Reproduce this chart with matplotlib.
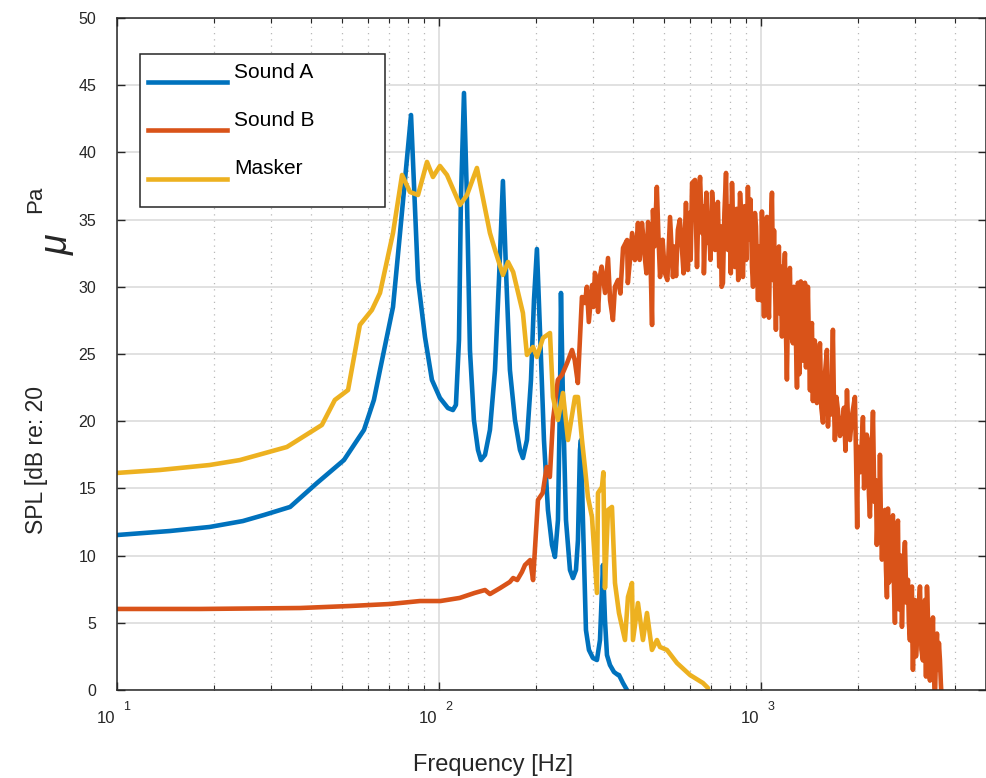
import numpy as np
import matplotlib.pyplot as plt
from matplotlib import transforms
from matplotlib.lines import Line2D
from matplotlib.patches import Rectangle
from matplotlib.ticker import LogLocator, MultipleLocator, NullFormatter

plt.rcParams['font.family'] = ['Liberation Sans', 'DejaVu Sans']

# Sound A
freq_a = [10, 14.6, 19.4, 24.6, 28.6, 34.5, 41.8, 50.7, 58.5, 62.8, 65.6, 72.0, 75.7,
          81.9, 86.1, 90.5, 95.1, 100.7, 106.6, 110.5, 112.9, 115.4, 117.0, 119.6, 122.2,
          124.8, 128.4, 132.2, 135.0, 139.0, 144.0, 149.3, 153.6, 158.0, 161.5, 166.1,
          172.2, 178.5, 182.3, 187.6, 193.1, 197.3, 201.5, 205.9, 211.9, 218.0, 224.4,
          229.2, 234.2, 237.6, 239.3, 242.7, 248.0, 255.2, 260.7, 266.4, 270.2, 274.1,
          276.1, 280.0, 286.1, 292.3, 300.8, 309.5, 316.3, 320.8, 323.1, 327.8, 332.5,
          339.7, 349.6, 359.7, 362.3, 372.8, 383.6]
spl_a = [11.53, 11.83, 12.13, 12.57, 13.02, 13.62, 15.40, 17.11, 19.35, 21.58, 23.81, 28.50, 34.0,
         42.78, 30.51, 26.26, 23.07, 21.73, 20.98, 20.83, 21.21, 26.04, 36.46, 44.42, 36.46,
         25.30, 20.09, 17.86, 17.11, 17.49, 19.35, 23.81, 30.51, 37.87, 31.25, 23.81,
         20.09, 17.86, 17.26, 18.60, 23.07, 29.02, 32.81, 26.79, 18.60, 13.39, 10.79,
         9.90, 12.65, 21.58, 29.54, 21.58, 12.65, 8.93, 8.33, 8.93, 11.16, 17.86,
         18.6, 12.65, 4.46, 2.98, 2.38, 2.23, 3.72, 7.44, 9.30, 5.21, 2.60,
         1.86, 1.34, 1.12, 1.12, 0.52, 0.0]

# Sound B
freq_b = [10, 18.1, 37, 52.9, 70.5, 87.3, 101, 116, 129, 139, 144, 155, 166, 170, 175, 181,
          185, 192, 196, 203, 210, 216, 221, 226, 234, 241, 250, 259, 264, 270, 278, 284,
          288, 292, 299, 302, 305, 309, 312, 316, 320, 328, 335, 340, 347, 352, 360, 366,
          373, 384, 386, 392, 398, 406, 410, 415, 420, 427, 432, 436, 441, 446, 452, 459,
          462, 467, 475, 480, 486, 495, 503, 512, 522, 533, 540, 545, 552, 560, 568, 575,
          585, 593, 600, 605, 611, 624, 633, 640, 647, 656, 662, 665, 670, 677, 685, 690,
          697, 705, 712, 720, 727, 735, 742, 750, 755, 762, 770, 779, 785, 790, 800, 806,
          813, 820, 830, 840, 850, 861, 870, 879, 890, 900, 911, 920, 928, 938, 945, 958,
          965, 972, 979, 990,
          1000, 1007, 1015, 1022, 1030, 1044, 1050, 1059, 1068, 1082, 1090, 1098, 1113,
          1122, 1137, 1145, 1152, 1162, 1175, 1187, 1195, 1204, 1215, 1230, 1240, 1257,
          1265, 1280, 1294, 1303, 1315, 1330, 1340, 1350, 1360, 1370, 1380, 1389, 1399,
          1410, 1420, 1430, 1440, 1450, 1460, 1470, 1480, 1492, 1508, 1525, 1540, 1558,
          1580, 1603, 1615, 1630, 1650, 1673, 1685, 1697, 1715, 1734, 1760, 1785, 1810,
          1830, 1850, 1870, 1890, 1920, 1958, 1975, 1990, 2001, 2035, 2074, 2090, 2110,
          2130, 2149, 2165, 2180, 2200, 2228, 2250, 2276, 2290, 2309, 2325, 2342, 2360,
          2376, 2400, 2427, 2445, 2462, 2480, 2500, 2516, 2540, 2570, 2590, 2607, 2630,
          2664, 2680, 2702, 2720, 2741, 2770, 2800, 2830, 2861, 2880, 2902, 2920, 2944,
          2955, 2965, 2985, 3008, 3030, 3052, 3085, 3118, 3150, 3185, 3210, 3231, 3255,
          3278, 3301, 3325, 3349, 3370, 3397, 3421, 3445, 3471, 3500, 3521, 3546, 3570,
          3597, 3620, 3649]
spl_b = [6.03, 6.03, 6.10, 6.25, 6.40, 6.62, 6.62, 6.85, 7.22, 7.44, 7.14, 7.59, 8.04, 8.33, 8.18, 8.78,
         9.30, 9.67, 8.18, 14.14, 14.66, 16.59, 15.85, 20.09, 23.07, 23.44, 24.33, 25.30, 24.55, 22.84, 29.24, 28.79,
         30.0, 27.38, 30.13, 28.5, 31.03, 30.5, 28.13, 30.73, 31.5, 29.54, 32.14, 29.0, 27.53, 30.0, 30.51, 29.5,
         32.89, 33.48, 30.28, 32.0, 34.00, 31.99, 33.0, 34.75, 32.0, 34.75, 33.5, 32.14, 31.0, 34.82, 33.8, 27.16,
         35.71, 33.0, 37.43, 34.0, 30.73, 33.5, 31.03, 30.5, 35.19, 30.73, 33.0, 30.8, 34.23, 35.0, 32.96, 31.0,
         36.24, 31.25, 35.5, 32.0, 37.72, 37.95, 31.47, 36.5, 38.17, 34.00, 36.0, 31.0, 33.48, 37.0, 33.26, 34.5,
         32.0, 37.05, 35.5, 32.74, 35.0, 36.31, 31.5, 34.5, 30.0, 30.28, 35.5, 38.47, 33.5, 32.74, 36.0, 31.0,
         37.72, 34.5, 31.47, 35.8, 30.5, 36.98, 35.0, 30.73, 36.0, 32.0, 37.43, 33.5, 36.5, 31.47, 30.0, 35.49,
         34.5, 31.5, 29.02, 33.0,
         29.0, 35.6, 31.0, 27.8, 34.0, 35.2, 29.5, 27.7, 33.5, 37.0, 30.5, 34.2, 26.8,
         31.8, 33.0, 28.0, 31.5, 26.3, 30.0, 32.5, 27.0, 23.1, 29.5, 31.4, 26.5, 25.8,
         30.0, 27.5, 22.5, 30.3, 23.5, 30.4, 26.5, 24.5, 28.5, 30.3, 24.0, 26.0, 30.0,
         25.5, 22.3, 26.5, 27.3, 21.5, 24.8, 26.0, 22.0, 21.35, 24.0, 25.8, 21.0, 19.9,
         23.5, 25.3, 19.6, 22.5, 20.5, 26.8, 21.5, 18.6, 21.8, 20.8, 18.9, 19.6, 21.0,
         17.8, 22.3, 19.0, 18.6, 20.5, 21.8, 17.0, 12.1, 18.1, 16.2, 20.3, 15.0, 16.4,
         19.0, 18.6, 14.5, 12.9, 16.5, 20.7, 14.0, 15.6, 10.8, 13.6, 11.2, 17.5, 12.0,
         9.7, 12.8, 13.4, 9.0, 6.9, 13.5, 8.0, 9.7, 12.2, 13.0, 7.5, 5.0, 11.5,
         12.6, 6.0, 7.4, 10.0, 4.7, 9.0, 11.0, 6.5, 8.2, 5.0, 3.7, 7.0, 7.7,
         3.5, 1.5, 5.2, 6.7, 2.5, 3.7, 6.0, 7.7, 3.0, 2.2, 5.5, 6.7, 1.0,
         7.7, 5.4, 2.0, 0.7, 4.5, 3.0, 5.4, 1.0, -0.5, 3.0, 4.2, 1.5, 3.5,
         2.2, 0.5, -1.0]

# Masker
freq_m = [10, 13.6, 19.4, 24.1, 33.7, 43.3, 47.5, 52.2, 56.8, 61.9, 65.6, 72.0, 76.8, 81.3,
          86.1, 91.8, 95.8, 100.7, 105.9, 116.2, 122.2, 131.2, 144.0, 149.3, 158.0, 163.8,
          170.0, 182.3, 187.6, 195.9, 201.5, 210.4, 221.2, 226.0, 234.2, 242.7, 251.6, 264.5,
          270.2, 278.1, 284.1, 290.2, 298.7, 309.5, 311.8, 320.8, 324, 327.8, 334.9, 344.6,
          352.1, 362.3, 378.2, 386.4, 397.6, 400.4, 415.0, 430.1, 442.6, 458.7, 475.4, 485.7,
          510.7, 548.5, 602.0, 660.6, 684.6]
spl_m = [16.15, 16.37, 16.74, 17.11, 18.08, 19.72, 21.58, 22.32, 27.16, 28.27, 29.54, 34.00, 38.32, 37.05,
         36.83, 39.29, 38.17, 38.99, 38.32, 36.09, 36.83, 38.84, 34.00, 32.74, 30.88, 31.85,
         31.10, 28.05, 24.93, 25.52, 24.78, 26.19, 26.56, 21.80, 20.09, 22.10, 18.60, 21.80,
         21.80, 18.60, 16.52, 14.36, 12.87, 7.22, 14.66, 15.10, 16.2, 7.59, 13.39, 13.62,
         7.96, 5.73, 3.72, 6.92, 7.96, 3.72, 6.47, 3.72, 5.73, 2.98, 3.72, 3.20,
         2.98, 2.01, 1.12, 0.52, 0.15]

labels = ['Sound A', 'Sound B', 'Masker']
colors = ['#0072BD', '#D95319', '#EDB120']
xtick_exps = [1, 2, 3]

fig = plt.figure(figsize=(9.87, 7.78), dpi=100)
ax = fig.add_axes([0.1185, 0.1131, 0.8805, 0.8638])

for f, s, c in zip([freq_a, freq_b, freq_m], [spl_a, spl_b, spl_m], colors):
    ax.plot(f, s, color=c, lw=3.3, solid_joinstyle='round', solid_capstyle='round')

ax.set_xscale('log')
ax.set_xlim(10, 5000)
ax.set_ylim(0, 50)
ax.yaxis.set_major_locator(MultipleLocator(5))
ax.xaxis.set_major_locator(LogLocator(base=10, numticks=10))
ax.xaxis.set_minor_locator(LogLocator(base=10, subs=np.arange(2, 10), numticks=10))
ax.xaxis.set_major_formatter(NullFormatter())
ax.xaxis.set_minor_formatter(NullFormatter())

ax.tick_params(which='both', direction='in', top=True, right=True, color='#262626')
ax.tick_params(which='major', length=6, width=1)
ax.tick_params(which='minor', length=3.5, width=0.8)
ax.tick_params(axis='y', labelsize=11.5, pad=15, labelcolor='#262626')
for sp in ax.spines.values():
    sp.set_color('#262626')
    sp.set_linewidth(1.1)

ax.grid(which='major', color='#d9d9d9', lw=1.1)
ax.grid(axis='x', which='minor', color='#b8b8b8', ls=(0, (1, 4)), lw=0.9)
ax.set_axisbelow(True)

# x tick labels in the "10 ^n" style
trans = transforms.blended_transform_factory(ax.transData, ax.transAxes)
for e in xtick_exps:
    ax.text(10 ** e, -0.0417, '10', ha='right', va='center', fontsize=12, color='#262626',
            transform=transforms.offset_copy(trans, fig, x=-1.5, units='points'))
    ax.text(10 ** e, -0.0253, str(e), ha='left', va='center', fontsize=9, color='#262626',
            transform=transforms.offset_copy(trans, fig, x=4.5, units='points'))

ax.text(0.4327, -0.1116, 'Frequency [Hz]', transform=ax.transAxes, ha='center', va='center',
        fontsize=17, color='#262626')

# y label, pieces laid out the way the original renders them
fig.text(0.0365, 0.4087, 'SPL [dB re: 20', rotation=90, ha='center', va='center',
         fontsize=16.5, color='#262626')
fig.text(0.0585, 0.685, 'μ', rotation=90, ha='center', va='center', fontsize=27,
         fontstyle='italic', color='#262626')
fig.text(0.0365, 0.744, 'Pa', rotation=90, ha='center', va='center', fontsize=16,
         color='#262626')

# legend box
ax.add_patch(Rectangle((0.0265, 0.7188), 0.2819, 0.2276, transform=ax.transAxes,
                       fc='white', ec='#262626', lw=1.1, zorder=5))
for lab, c, yl, yt in zip(labels, colors, [0.9048, 0.8333, 0.7604], [0.9196, 0.8467, 0.7753]):
    ax.add_line(Line2D([0.0357, 0.1266], [yl, yl], transform=ax.transAxes, color=c,
                       lw=3.3, zorder=6))
    ax.text(0.1346, yt, lab, transform=ax.transAxes, ha='left', va='center',
            fontsize=15, color='black', zorder=6)

plt.savefig('out.png', dpi=100)
plt.close()
